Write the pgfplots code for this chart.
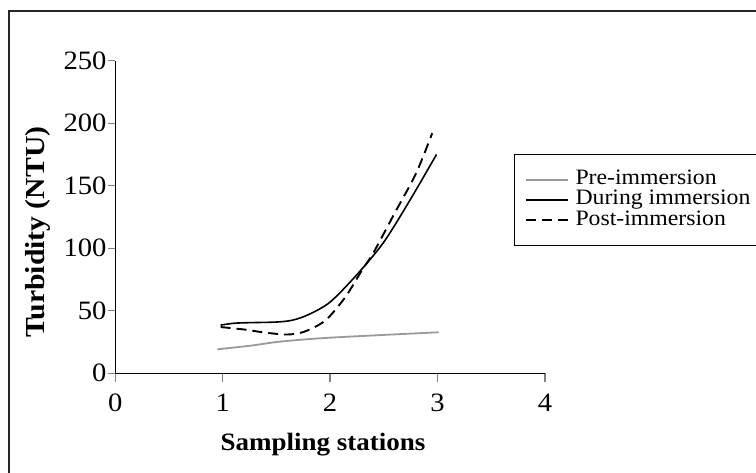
\documentclass[border=0pt]{standalone}
\usepackage{fontspec}
\setmainfont{Liberation Serif}[FakeStretch=1.08]
\usepackage{pgfplots}
\pgfplotsset{compat=1.18}
\definecolor{pregray}{HTML}{9A9A9A}
\begin{document}
\begin{tikzpicture}
\useasboundingbox (0,0) rectangle (756pt,472pt);
% outer frame, only left and top edges fall inside the page
\draw[line width=2pt, black!85] (8.5pt,-20pt) -- (8.5pt,461pt) -- (780pt,461pt);
\begin{axis}[
    at={(115.3pt,98.7pt)}, anchor=south west,
    scale only axis, width=429.7pt, height=312.6pt,
    xmin=0, xmax=4, ymin=0, ymax=250,
    xtick={0,1,2,3,4}, ytick={0,50,100,150,200,250},
    axis x line=bottom, axis y line=left,
    axis line style={-, line width=1.4pt},
    tick align=outside, minor tick num=0,
    xtick style={line width=1.4pt, /pgfplots/major tick length=9pt},
    ytick style={line width=1.4pt, /pgfplots/major tick length=7pt},
    /pgf/number format/assume math mode=true,
    tick label style={font=\fontsize{26.5}{26.5}\selectfont},
    xticklabel style={yshift=-13pt},
    yticklabel style={xshift=-1pt},
    legend style={at={(0.928,0.7015)}, anchor=north west,
                  draw=black, line width=1.3pt,
                  font=\fontsize{22}{22}\selectfont,
                  row sep=0.3pt,
                  nodes={inner sep=0pt, text height=15pt, text depth=5pt},
                  cells={anchor=west},
                  /tikz/every odd column/.append style={column sep=7pt},
                  inner xsep=10pt, inner ysep=15pt},
    legend image code/.code={\draw[#1, line width=1.8pt] (0pt,0pt) -- (42pt,0pt);},
  ]
\addplot[pregray, line width=1.8pt, smooth, tension=0.5] coordinates {
  (0.95,19.2) (1.25,22.0) (1.5,25.0) (1.75,27.0) (2.0,28.5) (2.5,30.7) (3.01,32.8)};
\addlegendentry{Pre-immersion}
\addplot[black, line width=1.6pt, smooth, tension=0.5] coordinates {
  (0.98,38.5) (1.1,40.0) (1.25,40.5) (1.5,41.0) (1.65,42.5) (1.8,47.0) (2.0,57.0)
  (2.25,79.0) (2.5,105.0) (2.75,139.5) (2.99,175.0)};
\addlegendentry{During immersion}
\addplot[black, line width=1.9pt, dash pattern=on 10pt off 6pt, smooth, tension=0.5] coordinates {
  (0.98,37.0) (1.2,35.0) (1.4,32.5) (1.6,31.0) (1.75,33.0) (1.9,39.0) (2.0,46.0)
  (2.15,62.0) (2.3,83.0) (2.4,96.0) (2.6,128.0) (2.8,160.0) (2.95,192.0)};
\addlegendentry{Post-immersion}
\end{axis}
\node[anchor=base, font=\bfseries\fontsize{25}{25}\selectfont] at (323pt,22pt) {Sampling stations};
\node[rotate=90, anchor=center, font=\bfseries\fontsize{27.5}{27.5}\selectfont] at (38pt,240pt) {Turbidity (NTU)};
\end{tikzpicture}
\end{document}
